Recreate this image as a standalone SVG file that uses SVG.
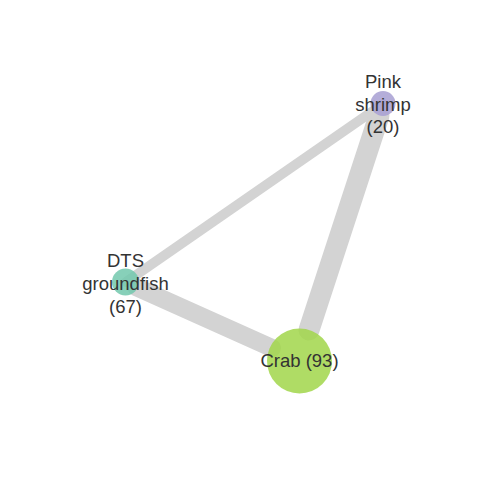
<svg xmlns="http://www.w3.org/2000/svg" width="480" height="480" viewBox="0 0 480 480">
<style>
.edge{stroke:#d3d3d3;stroke-linecap:round;fill:none}
.node{opacity:0.85}
.lbl{font-family:"Liberation Sans",Arial,Helvetica,sans-serif;font-size:18.5px;fill:#333333;text-anchor:middle}
</style>
<rect width="480" height="480" fill="#ffffff"/>
<g id="edges">
<line class="edge" x1="126" y1="282" x2="383" y2="104" stroke-width="10"/>
<line class="edge" x1="136" y1="287" x2="272" y2="348" stroke-width="18"/>
<line class="edge" x1="379" y1="116" x2="309" y2="330" stroke-width="21"/>
</g>
<g id="node-dts">
<circle class="node" cx="125.5" cy="282" r="13.5" fill="#72c8ad"/>
<text class="lbl" x="125.5" y="266.5">DTS</text>
<text class="lbl" x="125.5" y="290">groundfish</text>
<text class="lbl" x="125.5" y="313">(67)</text>
</g>
<g id="node-shrimp">
<circle class="node" cx="383" cy="103.5" r="12.5" fill="#a79fd2"/>
<text class="lbl" x="383" y="88">Pink</text>
<text class="lbl" x="383" y="110.5">shrimp</text>
<text class="lbl" x="383" y="133">(20)</text>
</g>
<g id="node-crab">
<circle class="node" cx="299.5" cy="361" r="32.5" fill="#a1d64a"/>
<text class="lbl" x="299.5" y="367">Crab (93)</text>
</g>
</svg>
